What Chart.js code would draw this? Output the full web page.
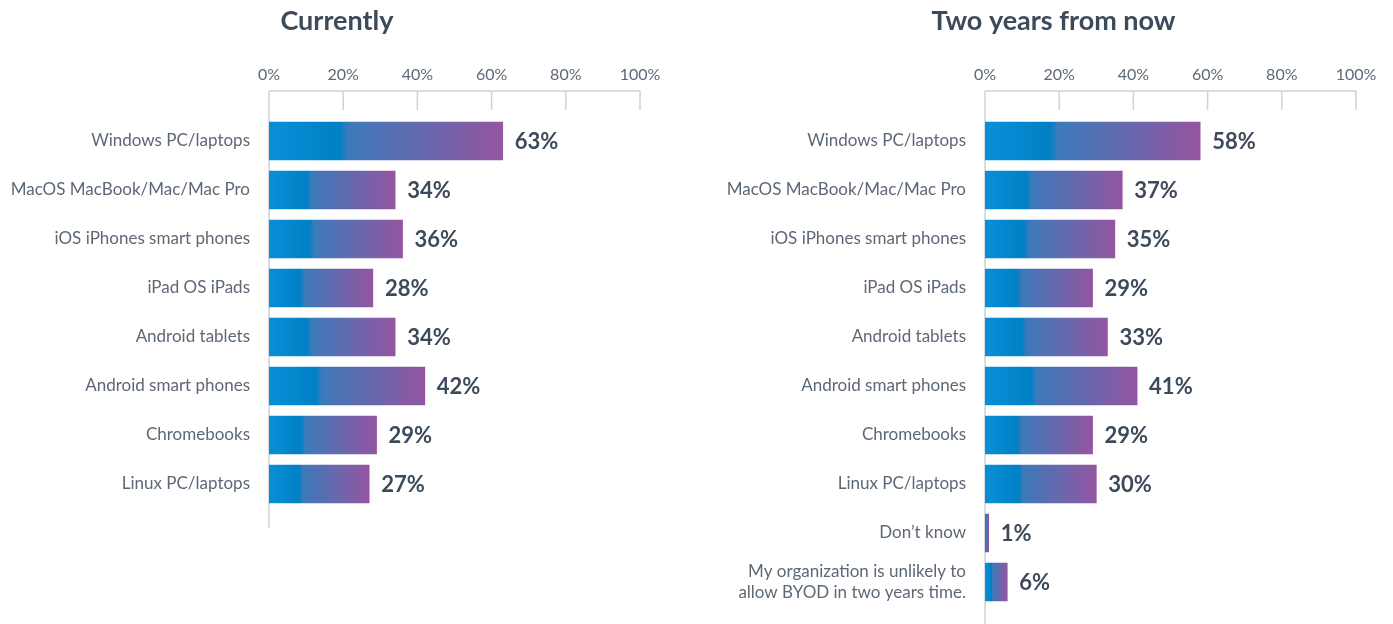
<!DOCTYPE html>
<html>
<head>
<meta charset="utf-8">
<script src="https://cdn.jsdelivr.net/npm/chart.js@4"></script>
<style>
  html, body { margin:0; padding:0; background:#fff; }
  #wrap { position:relative; width:1393px; height:624px; overflow:hidden; }
  .box { position:absolute; top:0; height:624px; }
  #boxNow { left:0; width:674px; }
  #boxLater { left:714px; width:679px; }
</style>
</head>
<body>
<div id="wrap">
  <div class="box" id="boxNow"><canvas id="chartNow"></canvas></div>
  <div class="box" id="boxLater"><canvas id="chartLater"></canvas></div>
</div>
<script>
/* ====== データ ====== */
const categoriesNow = [
  'Windows PC/laptops', 'MacOS MacBook/Mac/Mac Pro', 'iOS iPhones smart phones', 'iPad OS iPads',
  'Android tablets', 'Android smart phones', 'Chromebooks', 'Linux PC/laptops'
];
const valuesNow = [63, 34, 36, 28, 34, 42, 29, 27];

const categoriesLater = [
  'Windows PC/laptops', 'MacOS MacBook/Mac/Mac Pro', 'iOS iPhones smart phones', 'iPad OS iPads',
  'Android tablets', 'Android smart phones', 'Chromebooks', 'Linux PC/laptops', 'Don\u2019t know',
  ['My organization is unlikely to', 'allow BYOD in two years time.']
];
const valuesLater = [58, 37, 35, 29, 33, 41, 29, 30, 1, 6];

const xTicks = [0, 20, 40, 60, 80, 100];

/* ====== スタイル ====== */
const FONT = 'Lato, "Open Sans", sans-serif';
const TEXT = '#5d6877';
const DARK = '#3d4a5a';
const LINE = '#cdd2d9';
const AREA_TOP = 116.5;   // チャート領域の上端
const ROW = 49;           // 1カテゴリの高さ
const TITLE_H = 5 + 27 * 1.2;

// バーごとのグラデーション（0%→値）
function barGradient(ctx) {
  const chart = ctx.chart;
  if (!chart.chartArea || ctx.type !== 'data') return '#0088d0';
  const xs = chart.scales.x;
  const x0 = xs.getPixelForValue(0);
  const x1 = xs.getPixelForValue(ctx.raw);
  if (x1 - x0 < 1) return '#0088d0';
  const g = chart.ctx.createLinearGradient(x0, 0, x1, 0);
  g.addColorStop(0, '#0a8fd7');
  g.addColorStop(0.3, '#0080c5');
  g.addColorStop(0.34, '#3c7aba');
  g.addColorStop(1, '#9455a0');
  return g;
}

// 上部の軸線・目盛り、0%の縦線、値ラベル
const decorPlugin = {
  id: 'decor',
  beforeDatasetsDraw(chart) {
    const { ctx, chartArea, scales: { x } } = chart;
    const topY = chartArea.top - 25.5;
    const tickEnd = chartArea.top - 6.5;
    ctx.save();
    ctx.strokeStyle = LINE;
    ctx.lineWidth = 1.5;
    ctx.beginPath();
    ctx.moveTo(x.getPixelForValue(0), topY);
    ctx.lineTo(x.getPixelForValue(100), topY);
    xTicks.forEach(t => {
      const px = x.getPixelForValue(t);
      ctx.moveTo(px, topY);
      ctx.lineTo(px, t === 0 ? chartArea.bottom + 20 : tickEnd);
    });
    ctx.stroke();
    ctx.restore();
  },
  afterDatasetsDraw(chart) {
    const { ctx } = chart;
    const meta = chart.getDatasetMeta(0);
    const vals = chart.data.datasets[0].data;
    ctx.save();
    ctx.fillStyle = DARK;
    ctx.font = 'bold 22px ' + FONT;
    ctx.textAlign = 'left';
    ctx.textBaseline = 'middle';
    meta.data.forEach((bar, i) => {
      ctx.fillText(vals[i] + '%', bar.x + 12, bar.y + 1);
    });
    ctx.restore();
  }
};

function makeChart(id, title, labels, values, yWidth, padRight) {
  const n = labels.length;
  const padBottom = 624 - (AREA_TOP + n * ROW);
  return new Chart(document.getElementById(id).getContext('2d'), {
    type: 'bar',
    data: {
      labels,
      datasets: [{ data: values, backgroundColor: barGradient, barThickness: 38, borderWidth: 0 }]
    },
    options: {
      indexAxis: 'y',
      responsive: true,
      maintainAspectRatio: false,
      animation: false,
      layout: { padding: 0 },
      scales: {
        x: {
          position: 'top', min: 0, max: 100,
          afterBuildTicks: s => { s.ticks = xTicks.map(v => ({ value: v })); },
          afterFit: s => {
            s.height = AREA_TOP - TITLE_H;
            s.paddingLeft = 0;
            s.paddingRight = padRight;
          },
          grid: { display: false, drawTicks: false },
          border: { display: false },
          ticks: { padding: 32, color: TEXT, font: { family: FONT, size: 16 }, callback: v => v + '%' }
        },
        y: {
          afterFit: s => {
            s.width = yWidth;
            s.paddingTop = 0;
            s.paddingBottom = padBottom;
          },
          grid: { display: false, drawTicks: false },
          border: { display: false },
          ticks: { padding: 19, color: TEXT, font: { family: FONT, size: 17, lineHeight: 1.2 } }
        }
      },
      plugins: {
        legend: { display: false },
        tooltip: { enabled: false },
        title: {
          display: true, text: title, color: DARK,
          font: { family: FONT, size: 27, weight: 'bold', lineHeight: 1.2 },
          padding: { top: 5, bottom: 0 }
        }
      }
    },
    plugins: [decorPlugin]
  });
}

makeChart('chartNow', 'Currently', categoriesNow, valuesNow, 269, 34);
makeChart('chartLater', 'Two years from now', categoriesLater, valuesLater, 271, 37);
</script>
</body>
</html>
